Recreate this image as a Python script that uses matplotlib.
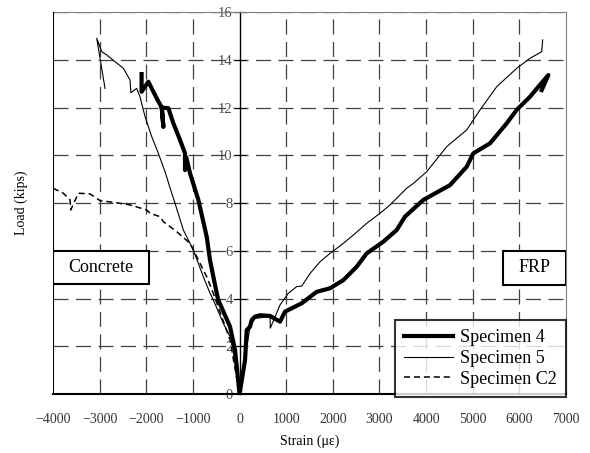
import matplotlib.pyplot as plt
from matplotlib.patches import Rectangle

# Specimen 4 (thick line) - compression side then FRP side
s4_strain = [-2100, -2100, -1955, -1775, -1668, -1633, -1668, -1526, -1419, -1276,
             -1169, -1169, -1140, -1061, -883, -704, -633, -489, -455, -204, -96, 0,
             118, 154, 225, 261, 332, 440, 654, 868, 975, 1333, 1655, 1941, 2226,
             2512, 2727, 3083, 3370, 3548, 3941, 4513, 4871, 5013, 5371, 5729,
             5943, 6229, 6407, 6622, 6479]
s4_load = [13.4, 12.66, 13.08, 12.38, 12.0, 11.2, 12.0, 11.97, 11.34, 10.64,
           10.08, 9.38, 9.9, 9.24, 8.13, 6.59, 5.61, 4.22, 3.94, 2.82, 1.84, 0.0,
           1.42, 2.68, 2.82, 3.1, 3.24, 3.3, 3.27, 3.03, 3.45, 3.8, 4.28, 4.43, 4.77,
           5.33, 5.89, 6.38, 6.87, 7.43, 8.13, 8.75, 9.52, 10.08, 10.5, 11.34,
           11.9, 12.45, 12.87, 13.36, 12.73]

# Specimen 5 (thin line)
s5_strain = [-2884, -3062, -2955, -2848, -2670, -2491, -2348, -2330, -2205, -2134,
             -2026, -1883, -1740, -1597, -1454, -1383, -1205, -990, -776, -633,
             -562, -347, -168, 0, 225, 332, 654, 660, 868, 1047, 1226, 1333, 1512,
             1726, 1941, 2226, 2441, 2727, 3013, 3227, 3585, 3727, 4013, 4442,
             4871, 5157, 5514, 5943, 6229, 6479, 6500]
s5_load = [12.8, 14.9, 14.34, 14.2, 13.92, 13.64, 13.15, 12.62, 12.8, 12.45,
           11.62, 10.78, 10.08, 9.31, 8.41, 7.99, 6.87, 6.03, 4.91, 4.22,
           3.94, 2.96, 2.26, 0.0, 2.82, 3.17, 3.24, 2.76, 3.73, 4.22, 4.5, 4.52, 5.05,
           5.54, 5.89, 6.31, 6.66, 7.15, 7.57, 7.92, 8.62, 8.82, 9.31, 10.36,
           11.06, 11.9, 12.87, 13.64, 14.06, 14.34, 14.83]

# Specimen C2 (dashed line, concrete only)
c2_strain = [-4000, -3778, -3634, -3620, -3456, -3205, -2991, -2633, -2348, -1990,
             -1919, -1705, -1634, -1347, -1061, -918, -704, -562, -204, 0]
c2_load = [8.62, 8.41, 8.13, 7.71, 8.41, 8.38, 8.1, 8.01, 7.92, 7.71,
           7.57, 7.43, 7.22, 6.80, 6.31, 5.75, 4.91, 4.22, 2.26, 0.0]

x_ticks = list(range(-4000, 7001, 1000))
y_ticks = list(range(0, 17, 2))

plt.rcParams['font.family'] = ['Liberation Serif', 'DejaVu Serif']

fig = plt.figure(figsize=(5.9, 4.53), dpi=100)
ax = fig.add_axes([0.0898, 0.1302, 0.8695, 0.8433])

grid_kw = dict(color='0.25', linewidth=0.9, linestyle=(0, (12, 6)), zorder=1)
for xv in x_ticks[1:-1]:
    if xv != 0:
        ax.axvline(xv, **grid_kw)
for yv in y_ticks[1:]:
    ax.axhline(yv, **grid_kw)

ax.plot(s4_strain, s4_load, color='black', linewidth=3.0, label='Specimen 4', zorder=4)
ax.plot(s5_strain, s5_load, color='black', linewidth=0.8, label='Specimen 5', zorder=3)
ax.plot(c2_strain, c2_load, color='black', linewidth=1.1, linestyle=(0, (4, 2.5)),
        label='Specimen C2', zorder=3)

ax.set_xlim(-4000, 7000)
ax.set_ylim(0, 16)
ax.set_xticks(x_ticks)
ax.set_yticks(y_ticks)
ax.set_xticklabels([str(v).replace('-', '\u2212') for v in x_ticks])

# y axis sits at zero strain, outer frame kept around the plot
ax.spines['left'].set_position(('data', 0))
ax.spines['left'].set_linewidth(1.0)
ax.axvline(-4000, color='black', linewidth=1.5, zorder=5)
ax.spines['bottom'].set_linewidth(1.5)
ax.spines['top'].set_color('0.5')
ax.spines['right'].set_color('0.5')
ax.tick_params(axis='y', direction='inout', length=8, labelsize=10.5, labelcolor='0.3', pad=1)
ax.tick_params(axis='x', direction='in', length=0, labelsize=10, labelcolor='0.2', pad=14)

ax.set_xlabel('Strain (\u03bc\u03b5)', fontsize=10, labelpad=6)
ax.set_ylabel('Load (kips)', fontsize=10)
ax.yaxis.set_label_coords(-0.048, 0.5)

# region labels
ax.add_patch(Rectangle((-4000, 4.62), 2060, 1.38, facecolor='white', edgecolor='black',
                       linewidth=1.5, zorder=6))
ax.text(-2970, 5.31, 'Concrete', fontsize=13, ha='center', va='center', zorder=7)
ax.add_patch(Rectangle((5650, 4.58), 1350, 1.42, facecolor='white', edgecolor='black',
                       linewidth=1.5, zorder=6))
ax.text(6325, 5.29, 'FRP', fontsize=13, ha='center', va='center', zorder=7)

leg = ax.legend(loc='lower right', bbox_to_anchor=(1.0, -0.007), fontsize=13,
                frameon=True, fancybox=False, borderaxespad=0, handlelength=2.7,
                labelspacing=0.2, borderpad=0.5, handletextpad=0.4)
leg.get_frame().set_edgecolor('black')
leg.get_frame().set_linewidth(1.5)
leg.set_zorder(8)

plt.savefig('out.png', dpi=100)
